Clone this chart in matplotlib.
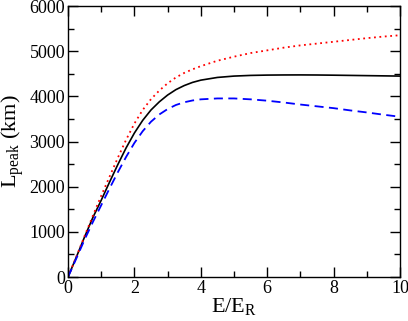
import matplotlib
matplotlib.use("Agg")
import matplotlib.pyplot as plt
from matplotlib.ticker import MultipleLocator

plt.rcParams["font.family"] = ["Liberation Serif", "DejaVu Serif"]
plt.rcParams["mathtext.fontset"] = "custom"
plt.rcParams["mathtext.rm"] = "Liberation Serif"

# E/E_R grid shared by the three curves
energy = [0, 0.25, 0.5, 0.75, 1.0, 1.25, 1.5, 1.75, 2.0, 2.25, 2.5, 2.75,
          3.0, 3.25, 3.5, 3.75, 4.0, 4.5, 5.0, 5.5, 6.0, 6.5, 7.0, 7.5,
          8.0, 8.5, 9.0, 9.5, 10.0]

# L_peak (km)
l_solid = [0, 440, 890, 1320, 1700, 2100, 2490, 2860, 3190, 3470, 3700, 3880,
           4030, 4150, 4240, 4310, 4360, 4420, 4450, 4465, 4472, 4475, 4476,
           4474, 4470, 4465, 4460, 4455, 4450]
l_dotted = [0, 450, 910, 1360, 1800, 2220, 2640, 3040, 3400, 3700, 3940, 4130,
            4290, 4420, 4520, 4600, 4670, 4790, 4880, 4960, 5020, 5080, 5130,
            5170, 5210, 5250, 5290, 5325, 5355]
l_dashed = [0, 410, 830, 1220, 1590, 1960, 2320, 2660, 2970, 3230, 3440, 3600,
            3720, 3810, 3870, 3910, 3935, 3955, 3955, 3935, 3905, 3865, 3820,
            3780, 3740, 3690, 3645, 3595, 3549]

fig = plt.figure(figsize=(4.08, 3.21), dpi=100)
ax = fig.add_axes([0.1667, 0.137, 0.8137, 0.844])

ax.plot(energy, l_solid, color="black", lw=1.2)
ax.plot(energy, l_dotted, color="red", lw=1.3, ls=(0, (1, 2)))
ax.plot(energy, l_dashed, color="blue", lw=1.3, ls=(0, (5, 3)))

ax.set_xlim(0, 10)
ax.set_ylim(0, 6000)
ax.xaxis.set_major_locator(MultipleLocator(2))
ax.xaxis.set_minor_locator(MultipleLocator(1))
ax.yaxis.set_major_locator(MultipleLocator(1000))
ax.yaxis.set_minor_locator(MultipleLocator(500))
ax.tick_params(which="both", direction="in", top=True, right=True,
               labelsize=13, width=1.0, pad=2)
ax.tick_params(which="major", length=7)
ax.tick_params(which="minor", length=4)
for s in ax.spines.values():
    s.set_linewidth(1.0)

ax.set_xlabel(r"E/E$_\mathrm{R}$", fontsize=16, labelpad=0)
ax.set_ylabel(r"L$_\mathrm{peak}$ (km)", fontsize=16, labelpad=2)

fig.savefig("out.png", dpi=100)
